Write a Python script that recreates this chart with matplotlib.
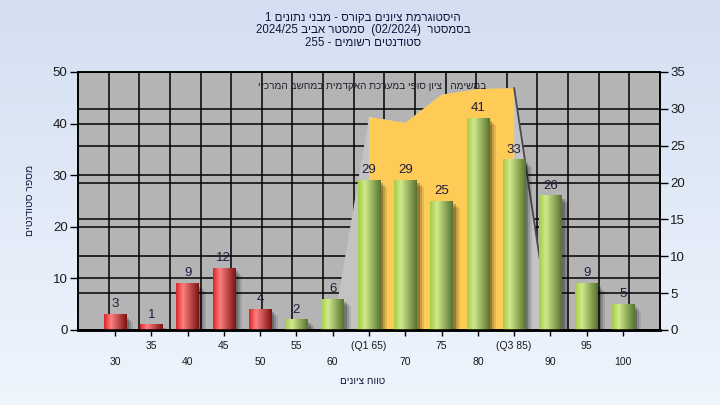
import numpy as np
import matplotlib
matplotlib.use('Agg')
import matplotlib.pyplot as plt
from matplotlib.colors import LinearSegmentedColormap
from matplotlib.patches import Rectangle, Polygon
from matplotlib import transforms

plt.rcParams['font.family'] = ['Liberation Sans', 'DejaVu Sans']

# histogram data
bins = [30, 35, 40, 45, 50, 55, 60, 65, 70, 75, 80, 85, 90, 95, 100]
counts = [3, 1, 9, 12, 4, 2, 6, 29, 29, 25, 41, 33, 26, 9, 5]
tick_labels = ['30', '35', '40', '45', '50', '55', '60', '(Q1 65)', '70', '75',
               '80', '(Q3 85)', '90', '95', '100']
# background area (right axis)
curve_x = [60, 65, 70, 75, 80, 85, 90]
curve_y = [0, 28.9, 28.1, 31.9, 32.7, 32.8, 0]
q1, q3 = 65, 85
pass_mark = 55

title_lines = ['היסטוגרמת ציונים בקורס - מבני נתונים 1',
               'בסמסטר  (02/2024)  סמסטר אביב 2024/25',
               'סטודנטים רשומים - 255']
subtitle = 'במשימה : ציון סופי במערכת האקדמית במחשב המרכזי'
xlabel = 'טווח ציונים'
ylabel = 'מספר סטודנטים'


def is_heb(w):
    return any('\u0590' <= c <= '\u05ff' for c in w)


def rtl(s):
    # matplotlib draws left to right: reverse word order, flip hebrew words,
    # leave numbers as they are
    return ' '.join(w[::-1] if is_heb(w) else w for w in s.split(' ')[::-1])


fig = plt.figure(figsize=(7.2, 4.05), dpi=100)

# page gradient
bg = fig.add_axes([0, 0, 1, 1], zorder=-10)
bg.imshow(np.linspace(0, 1, 256).reshape(-1, 1), aspect='auto', extent=(0, 1, 0, 1),
          cmap=LinearSegmentedColormap.from_list('bg', ['#d3dff1', '#eff5fd']))
bg.axis('off')

ax = fig.add_axes([78 / 720, 75 / 405, 582 / 720, 258 / 405])
ax.set_facecolor('#b4b4b4')
ax2 = ax.twinx()
ax2.set_ylim(0, 35)

# grid lines
ax.set_yticks(range(0, 51, 10))
ax.set_axisbelow(True)
ax.grid(axis='y', color='black', lw=1.1)
ax.grid(axis='x', visible=False)
right_ticks = list(range(0, 36, 5))
ax.hlines(right_ticks[1:-1], 0, 1, color='black', lw=1.1, zorder=0.6,
          transform=transforms.blended_transform_factory(ax.transAxes, ax2.transData))
ax.vlines([k / 19 for k in range(1, 19)], 0, 1, color='black', lw=1.1, zorder=0.6,
          transform=ax.transAxes)

# area with the quartile band
pts = list(zip(curve_x, curve_y))
ax.add_patch(Polygon(pts, closed=True, fc='#c3c3c3', ec='none',
                     transform=ax2.transData, zorder=1.5))
inner = [(x, y) for x, y in pts if q1 <= x <= q3] + [(q3, 0), (q1, 0)]
ax.add_patch(Polygon(inner, closed=True, fc='#ffcb57', ec='none',
                     transform=ax2.transData, zorder=1.6))
ax.plot(curve_x[-2:], curve_y[-2:], color='#4a4a4a', lw=1.3,
        transform=ax2.transData, zorder=1.7)

# bars
red_cmap = LinearSegmentedColormap.from_list('r', [(0, '#d9262b'), (0.3, '#ff7f7f'), (1, '#7d1212')])
green_cmap = LinearSegmentedColormap.from_list('g', [(0, '#a4cc46'), (0.3, '#d0ea8c'), (1, '#587330')])
ramp = np.linspace(0, 1, 64).reshape(1, -1)
w = 3.1
for b, c in zip(bins, counts):
    cmap = green_cmap if b >= pass_mark else red_cmap
    for k, a in [(7, 0.10), (5, 0.15), (3, 0.22)]:
        sh = transforms.offset_copy(ax.transData, fig=fig, x=k, y=-k, units='dots')
        ax.add_patch(Rectangle((b - w / 2, 0), w, c, fc='black', alpha=a, lw=0,
                               transform=sh, zorder=2))
    ax.imshow(ramp, cmap=cmap, extent=(b - w / 2, b + w / 2, 0, c), aspect='auto',
              interpolation='bilinear', zorder=3)
    ax.annotate(str(c), (b, c), xytext=(0, 3), textcoords='offset points',
                ha='center', va='bottom', fontsize=9.5, color='#1e1e3c', zorder=4)

ax.set_xlim(24.9, 105.1)
ax.set_ylim(0, 50)

ax.set_xticks(bins)
ax.set_xticklabels([lab if i % 2 else '\n' + lab for i, lab in enumerate(tick_labels)],
                   fontsize=7.5, color='#1a1a1a')
for t in ax.get_xticklabels():
    t.set_linespacing(1.75)
ax.tick_params(axis='x', length=4, width=1, pad=4, color='black')
ax.tick_params(axis='y', length=6, width=1, pad=1.5, labelsize=9.5, labelcolor='#1a1a1a')
ax2.set_yticks(right_ticks)
ax2.tick_params(axis='y', length=6, width=1, pad=1.5, labelsize=9.5, labelcolor='#1a1a1a')

for a in (ax, ax2):
    for s in a.spines.values():
        s.set_color('black')
        s.set_linewidth(1.2)
    a.spines['bottom'].set_linewidth(1.8)

ax.text(0.506, 0.946, rtl(subtitle), transform=ax.transAxes, ha='center', va='center',
        fontsize=7.2, color='#1e1e2e', zorder=5)

for i, line in enumerate(title_lines):
    fig.text(0.504, 1 - (18 + 12.5 * i) / 405, rtl(line), ha='center', va='center',
             fontsize=8.3, color='#14143c')

fig.text(30 / 720, 1 - 200 / 405, rtl(ylabel), rotation=90, ha='center', va='center',
         fontsize=7.5, color='#14143c')
fig.text(363 / 720, 1 - 381 / 405, rtl(xlabel), ha='center', va='center',
         fontsize=7.2, color='#14143c')

fig.savefig('out.png', dpi=100)
